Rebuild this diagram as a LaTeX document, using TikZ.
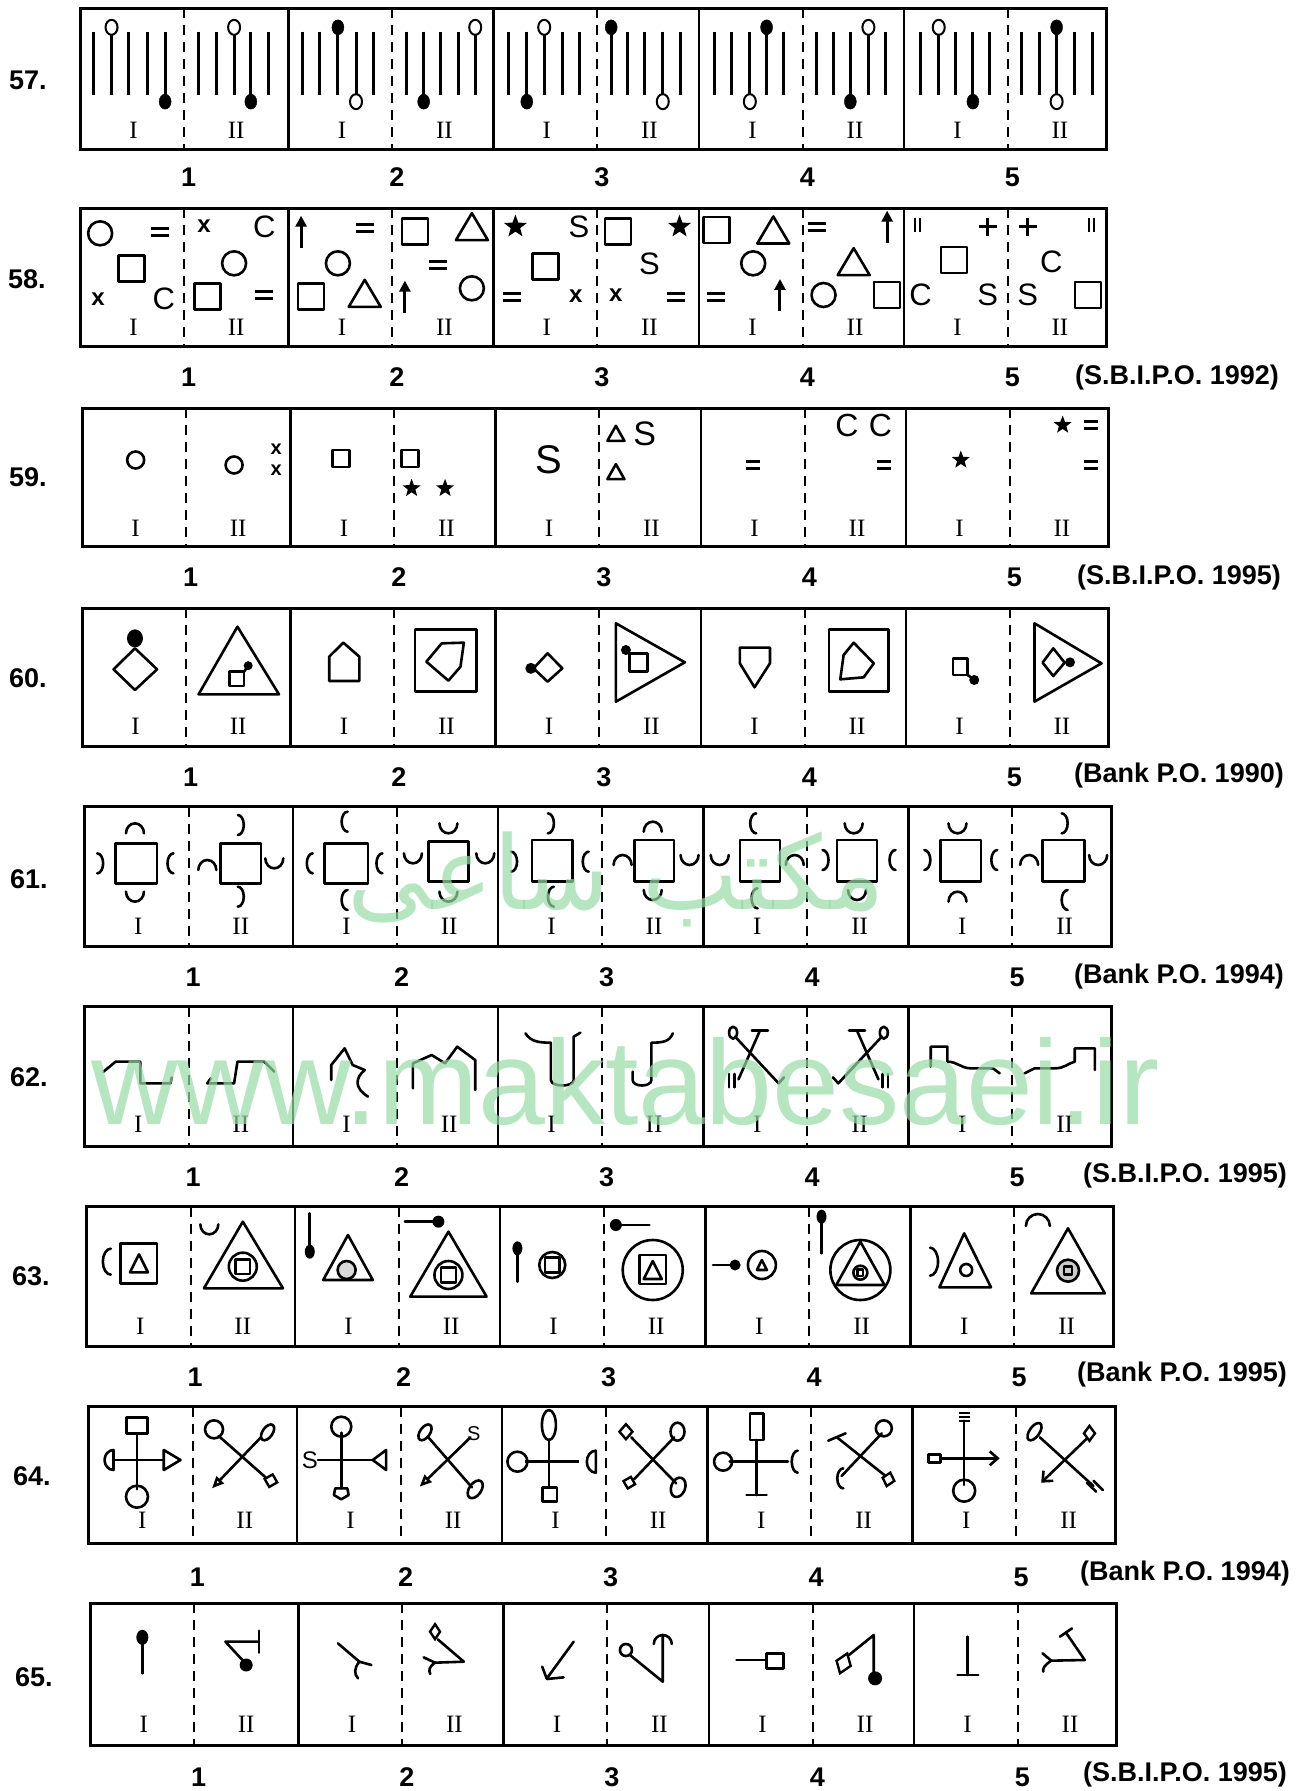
\documentclass[tikz,border=0pt]{standalone}
\usepackage{fontspec}
\setmainfont{Liberation Serif}
\newfontfamily\labsans{Liberation Sans}
\newfontfamily\arabicfont[Script=Arabic]{DejaVu Sans}
\TeXXeTstate=1
\usetikzlibrary{shapes.geometric,arrows.meta}
\definecolor{wmgreen}{RGB}{150,220,165}
\newcounter{symc}
\tikzset{
  rowbox/.style={line width=3pt},
  sepline/.style={line width=2.4pt},
  divider/.style={line width=2pt, dash pattern=on 10pt off 7pt},
  fig/.style={line width=2.6pt, line join=round, line cap=round},
  bar/.style={line width=3pt},
  odot/.style={fill=white, draw=black, line width=2pt},
  fdot/.style={fill=black, draw=black},
  romlab/.style={font=\fontsize{25}{28}\selectfont, inner sep=0pt},
  numlab/.style={font=\labsans\bfseries\fontsize{27}{30}\selectfont, inner sep=0pt},
}
\newcommand\rowframe[5]{%
  \foreach \o [count=\k] in {0,311,617,924,1230} {%
    \draw[divider] (#1+\o+155,#2) -- (#1+\o+155,#3);
    \node[romlab] (r#5p\k-a) at (#1+\o+80,#4) {I};
    \node[romlab] (r#5p\k-b) at (#1+\o+233,#4) {II};
    \node[numlab] (r#5n\k) at (#1+\o+162,531) {\k};
  }%
  \foreach \o in {311,617,924,1230} {\draw[sepline] (#1+\o,#2) -- (#1+\o,#3);}
  \draw[rowbox] (#1,#2) rectangle (#1+1533,#3);
}
\newcommand\pinT[2]{\draw[bar] (#1,82) -- (#1,285); \draw[#2] (#1,82) ellipse[x radius=6pt,y radius=7.5pt];}
\newcommand\pinB[2]{\draw[bar] (#1,95) -- (#1,305); \draw[#2] (#1,305) ellipse[x radius=6pt,y radius=7.5pt];}
\newcommand\sCirc[3]{\draw[fig] (#1,#2) circle[radius=#3pt];}
\newcommand\sRect[4]{\draw[fig] (#1,#2) ++(-#3pt,-#4pt) rectangle ++(2*#3pt,2*#4pt);}
\newcommand\sTri[4]{\draw[fig] (#1,#2) ++(0pt,0.5*#4pt) -- ++(0.5*#3pt,-#4pt) -- ++(-#3pt,0pt) -- cycle;}
\newcommand\sEq[3]{\draw[line width=3pt] (#1,#2) ++(-#3pt,3.5pt) -- ++(2*#3pt,0pt) (#1,#2) ++(-#3pt,-3.5pt) -- ++(2*#3pt,0pt);}
\newcommand\sTxt[4]{\stepcounter{symc}\node[inner sep=0pt,font=\labsans\fontsize{#4}{#4}\selectfont] (sym\the\value{symc}) at (#1,#2) {#3};}
\newcommand\sX[3]{\stepcounter{symc}\node[inner sep=0pt,font=\labsans\bfseries\fontsize{#3}{#3}\selectfont] (sym\the\value{symc}) at (#1,#2) {x};}
\newcommand\sStar[3]{\stepcounter{symc}\node[star,star points=5,star point ratio=2.4,fill,inner sep=0pt,minimum size=#3pt] (sym\the\value{symc}) at (#1,#2) {};}
\newcommand\sUp[2]{\draw[line width=3pt,-{Triangle[length=11pt,width=11pt]}] (#1,#2) ++(0pt,-16pt) -- ++(0pt,32pt);}
\newcommand\sPlus[2]{\draw[line width=2.8pt] (#1,#2) ++(-9pt,0pt) -- ++(18pt,0pt) (#1,#2) ++(0pt,-9pt) -- ++(0pt,18pt);}
\newcommand\sDbar[2]{\draw[line width=1.6pt] (#1,#2) ++(-2.5pt,-7pt) -- ++(0pt,14pt) (#1,#2) ++(2.5pt,-7pt) -- ++(0pt,14pt);}
\newcommand\aN[4]{\draw[fig] (#1,#2) ++(-#3pt,-0.5*#4pt) arc[start angle=180,end angle=0,x radius=#3pt,y radius=#4pt];}
\newcommand\aU[4]{\draw[fig] (#1,#2) ++(-#3pt,0.5*#4pt) arc[start angle=180,end angle=360,x radius=#3pt,y radius=#4pt];}
\newcommand\aL[4]{\draw[fig] (#1,#2) ++(0.5*#3pt,#4pt) arc[start angle=90,end angle=270,x radius=#3pt,y radius=#4pt];}
\newcommand\aR[4]{\draw[fig] (#1,#2) ++(-0.5*#3pt,#4pt) arc[start angle=90,end angle=-90,x radius=#3pt,y radius=#4pt];}
\newcommand\sDia[5]{\stepcounter{symc}\node[draw,line width=2.4pt,diamond,inner sep=0pt,minimum width=#3pt,minimum height=#4pt,rotate=#5,fill=white] (sym\the\value{symc}) at (#1,#2) {};}
\newcommand\sEll[5]{\draw[fig, rotate around={#5:(#1,#2)}] (#1,#2) ellipse[x radius=#3pt,y radius=#4pt];}
\begin{document}
\begin{tikzpicture}[x=1pt,y=-1pt]
\fill[white] (0,0) rectangle (1305,1791);
\useasboundingbox (0,0) rectangle (1305,1791);

% row numbers
\foreach \n/\yy/\xx in {57/80/9,58/279/8,59/477/9,60/678/9,61/879/10,62/1077/10,63/1276/12,64/1476/13,65/1677/15}
  {\node[numlab,anchor=west] (row\n) at (\xx,\yy) {\n.};}

% sources
\node[numlab,anchor=east] (src58) at (1279,378) {(S.B.I.P.O. 1992)};
\node[numlab,anchor=east] (src59) at (1281,578) {(S.B.I.P.O. 1995)};
\node[numlab,anchor=east] (src60) at (1284,776) {(Bank P.O. 1990)};
\node[numlab,anchor=east] (src61) at (1284,977) {(Bank P.O. 1994)};
\node[numlab,anchor=east] (src62) at (1287,1176) {(S.B.I.P.O. 1995)};
\node[numlab,anchor=east] (src63) at (1287,1375) {(Bank P.O. 1995)};
\node[numlab,anchor=east] (src64) at (1290,1573) {(Bank P.O. 1994)};
\node[numlab,anchor=east] (src65) at (1287,1774) {(S.B.I.P.O. 1995)};

% ---------------- row 57
\begin{scope}[shift={(70pt,0pt)},x=0.6698pt,y=-0.3333pt]
\foreach \x in {35,88,115,192,218,297,347,373,453,503,553,580,655,735,760,833,858,912,962,988,1065,1115,1140,1218,1270,1322,1373,1420,1447,1500,1527}
  {\draw[bar] (\x,95) -- (\x,285);}
\pinT{62}{odot} \pinB{142}{fdot} \pinT{245}{odot} \pinB{270}{fdot}
\pinT{400}{fdot} \pinB{427}{odot} \pinB{528}{fdot} \pinT{605}{odot}
\pinB{682}{fdot} \pinT{708}{odot} \pinT{808}{fdot} \pinB{885}{odot}
\pinB{1015}{odot} \pinT{1040}{fdot} \pinB{1165}{fdot} \pinT{1192}{odot}
\pinT{1297}{odot} \pinB{1348}{fdot} \pinT{1473}{fdot} \pinB{1473}{odot}
\rowframe{15}{25}{450}{390}{57}
\end{scope}

% ---------------- row 58
\begin{scope}[shift={(70pt,-200pt)},x=0.6698pt,y=-0.3333pt]
\sCirc{45}{100}{12} \sEq{135}{95}{9} \sX{200}{78}{24} \sTxt{290}{80}{C}{31}
\sRect{92}{205}{13}{13} \sCirc{245}{190}{12}
\sX{42}{298}{24} \sTxt{140}{298}{C}{31} \sRect{205}{290}{13}{13} \sEq{290}{285}{9}
\sUp{345}{95} \sEq{440}{85}{9} \sRect{515}{95}{13}{13} \sTri{600}{80}{32}{27}
\sCirc{400}{190}{12} \sEq{550}{195}{9}
\sRect{360}{290}{13}{13} \sTri{440}{280}{32}{27} \sUp{500}{290} \sCirc{600}{265}{12}
\sStar{665}{80}{24} \sTxt{760}{80}{S}{31} \sRect{818}{95}{13}{13} \sStar{910}{80}{24}
\sRect{710}{200}{13}{13} \sTxt{865}{190}{S}{31}
\sEq{660}{290}{9} \sX{755}{288}{24} \sX{815}{285}{24} \sEq{905}{290}{9}
\sRect{965}{90}{13}{13} \sTri{1050}{90}{32}{27} \sEq{1115}{80}{9} \sUp{1220}{80}
\sCirc{1020}{190}{12} \sTri{1170}{185}{32}{27}
\sEq{965}{290}{9} \sUp{1060}{285} \sCirc{1125}{285}{12} \sRect{1220}{285}{13}{13}
\sDbar{1265}{75} \sPlus{1370}{80} \sPlus{1430}{80} \sDbar{1525}{75}
\sRect{1320}{180}{13}{13} \sTxt{1465}{185}{C}{31}
\sTxt{1270}{285}{C}{31} \sTxt{1370}{285}{S}{31} \sTxt{1430}{285}{S}{31} \sRect{1520}{285}{13}{13}
\rowframe{15}{25}{440}{382}{58}
\end{scope}

% ---------------- row 59
\begin{scope}[shift={(70pt,-400pt)},x=0.6698pt,y=-0.3333pt]
\sCirc{98}{180}{8.5} \sCirc{245}{195}{8.5} \sX{308}{148}{20} \sX{308}{212}{20}
\sRect{405}{175}{8.5}{8.5} \sRect{508}{175}{8.5}{8.5} \sStar{510}{265}{19} \sStar{560}{265}{19}
\sTxt{715}{180}{S}{40} \sTri{815}{100}{17}{15} \sTxt{858}{100}{S}{34} \sTri{815}{215}{17}{15}
\sEq{1020}{195}{7} \sTxt{1160}{75}{C}{32} \sTxt{1210}{75}{C}{32} \sEq{1215}{195}{7}
\sStar{1330}{180}{19} \sStar{1482}{75}{19} \sEq{1525}{75}{7} \sEq{1525}{195}{7}
\rowframe{18}{25}{440}{385}{59}
\end{scope}

% ---------------- row 60
\begin{scope}[shift={(70pt,-600pt)},x=0.6698pt,y=-0.3333pt]
\fill (97,115) ellipse[x radius=8pt,y radius=9pt];
\draw[fig] (97,145) -- (130,208) -- (97,270) -- (65,208) -- cycle;
\draw[fig] (250,80) -- (312,283) -- (192,283) -- cycle;
\draw[fig] (238,215) rectangle (260,258); \draw[fig] (260,215) -- (266,197); \fill (266,197) circle[radius=4.5pt];
\draw[fig] (387,243) -- (432,243) -- (432,170) -- (408,128) -- (387,170) -- cycle;
\draw[fig] (515,88) rectangle (607,275);
\draw[fig] (555,130) -- (588,128) -- (583,200) -- (565,242) -- (532,185) -- cycle;
\fill (688,205) circle[radius=5.5pt];
\draw[fig] (713,160) -- (735,205) -- (713,245) -- (692,205) -- cycle;
\draw[fig] (815,70) -- (918,187) -- (815,305) -- cycle;
\draw[fig] (835,160) rectangle (862,215); \fill (830,150) circle[radius=5pt];
\draw[fig] (1000,143) -- (1045,143) -- (1045,190) -- (1022,262) -- (1000,190) -- cycle;
\draw[fig] (1133,88) rectangle (1222,275);
\draw[fig] (1170,128) -- (1200,190) -- (1185,232) -- (1150,238) -- (1155,165) -- cycle;
\draw[fig] (1318,175) rectangle (1340,225); \draw[fig] (1340,225) -- (1350,238); \fill (1350,240) circle[radius=5pt];
\draw[fig] (1440,70) -- (1540,190) -- (1440,305) -- cycle;
\draw[fig] (1468,145) -- (1485,188) -- (1468,228) -- (1452,188) -- cycle; \fill (1493,187) circle[radius=5pt];
\rowframe{18}{25}{440}{378}{60}
\end{scope}

% ---------------- row 61
\begin{scope}[shift={(70pt,-800pt)},x=0.6698pt,y=-0.3333pt]
\draw[fig] (68,130) rectangle (130,250); \aN{97}{85}{9}{10} \aR{45}{190}{6}{10} \aL{150}{190}{6}{10} \aU{97}{290}{9}{10}
\draw[fig] (225,130) rectangle (285,250); \aR{255}{75}{6}{10} \aN{205}{195}{9}{10} \aU{305}{190}{9}{10} \aR{255}{290}{6}{10}
\draw[fig] (380,130) rectangle (445,250); \aL{410}{65}{6}{10} \aL{358}{190}{6}{10} \aL{462}{190}{6}{10} \aL{410}{300}{6}{10}
\draw[fig] (535,125) rectangle (595,245); \aU{565}{85}{9}{10} \aU{512}{175}{9}{10} \aU{620}{175}{9}{10} \aU{565}{290}{9}{10}
\draw[fig] (690,120) rectangle (750,245); \aR{718}{70}{6}{10} \aR{663}{185}{6}{10} \aL{770}{185}{6}{10} \aL{718}{290}{6}{10}
\draw[fig] (843,120) rectangle (902,245); \aN{870}{80}{9}{10} \aN{825}{180}{9}{10} \aU{925}{180}{9}{10} \aU{870}{285}{9}{10}
\draw[fig] (1000,120) rectangle (1060,245); \aL{1020}{70}{6}{10} \aU{970}{180}{9}{10} \aN{1082}{180}{9}{10} \aL{1022}{295}{6}{10}
\draw[fig] (1145,120) rectangle (1205,245); \aU{1170}{85}{9}{10} \aR{1128}{180}{6}{10} \aL{1228}{180}{6}{10} \aU{1175}{285}{9}{10}
\draw[fig] (1300,120) rectangle (1360,245); \aU{1325}{85}{9}{10} \aR{1280}{180}{6}{10} \aL{1380}{180}{6}{10} \aN{1325}{290}{9}{10}
\draw[fig] (1452,120) rectangle (1515,245); \aR{1485}{70}{6}{10} \aN{1432}{180}{9}{10} \aU{1535}{180}{9}{10} \aL{1485}{300}{6}{10}
\rowframe{22}{20}{440}{378}{61}
\end{scope}

% ---------------- row 62
\begin{scope}[shift={(70pt,-1000pt)},x=0.6698pt,y=-0.3333pt]
\draw[fig] (50,215) -- (68,185) -- (105,185) -- (105,250) -- (150,250) -- (152,232);
\draw[fig] (210,235) -- (205,250) -- (245,250) -- (250,185) -- (290,185) -- (305,215);
\draw[fig] (390,240) -- (390,195) -- (410,145) -- (422,195) -- (440,210) .. controls (425,235) and (425,265) .. (445,290);
\draw[fig] (512,265) -- (512,190) -- (540,165) -- (560,190) -- (578,140) -- (605,180) -- (605,270);
\draw[fig] (680,100) .. controls (688,125) and (700,128) .. (718,128) -- (718,240) .. controls (718,262) and (752,262) .. (752,240) -- (752,110) -- (762,98);
\draw[fig] (900,100) .. controls (895,125) and (885,128) .. (868,128) -- (868,240) .. controls (868,262) and (840,262) .. (840,240) -- (840,215);
\draw[fig] (993,110) -- (1058,250) -- (1066,232);
\draw[fig] (990,98) ellipse[x radius=4pt,y radius=6pt];
\draw[fig] (1030,92) -- (998,238); \draw[fig] (1018,92) -- (1042,92);
\draw[fig] (984,222) -- (984,262) (992,222) -- (992,262);
\draw[fig] (1212,110) -- (1147,250) -- (1139,232);
\draw[fig] (1215,98) ellipse[x radius=4pt,y radius=6pt];
\draw[fig] (1175,92) -- (1207,238); \draw[fig] (1163,92) -- (1187,92);
\draw[fig] (1213,222) -- (1213,262) (1221,222) -- (1221,262);
\draw[fig] (1285,200) -- (1285,140) -- (1310,140) -- (1310,185) .. controls (1325,185) and (1330,205) .. (1345,205) -- (1378,205) -- (1388,220);
\draw[fig] (1425,220) -- (1440,205) -- (1470,205) .. controls (1485,205) and (1490,190) .. (1500,185) -- (1500,145) -- (1530,145) -- (1530,210);
\rowframe{22}{20}{440}{372}{62}
\end{scope}

% ---------------- row 63
\begin{scope}[shift={(70pt,-1200pt)},x=0.6698pt,y=-0.3333pt]
\aL{55}{185}{8}{13} \draw[fig] (75,130) rectangle (130,250); \sTri{103}{190}{18}{18}
\aU{208}{88}{9}{10} \draw[fig] (258,65) -- (318,265) -- (200,265) -- cycle; \sCirc{258}{200}{14} \draw[fig] (247,178) rectangle (269,222);
\draw[fig] (358,40) -- (358,145); \fill (358,155) ellipse[x radius=5pt,y radius=7pt];
\draw[fig,fill=gray!30] (413,210) circle[radius=9pt]; \draw[fig] (415,105) -- (452,240) -- (378,240) -- cycle;
\draw[fig] (500,65) -- (545,65); \fill (550,65) circle[radius=6pt];
\draw[fig] (565,95) -- (622,290) -- (508,290) -- cycle; \sCirc{565}{225}{14} \draw[fig] (554,203) rectangle (576,247);
\fill (668,145) ellipse[x radius=5pt,y radius=7pt]; \draw[fig] (668,150) -- (668,245);
\sCirc{720}{195}{13} \draw[fig] (709,173) rectangle (731,217);
\fill (815,75) circle[radius=6pt]; \draw[fig] (815,75) -- (865,75);
\sCirc{870}{210}{30} \draw[fig] (850,165) rectangle (890,252); \sTri{870}{210}{18}{18}
\draw[fig] (960,195) -- (990,195); \fill (993,195) circle[radius=5.5pt];
\sCirc{1033}{195}{14} \sTri{1033}{195}{10}{10}
\fill (1122,50) ellipse[x radius=5pt,y radius=7pt]; \draw[fig] (1122,55) -- (1122,160);
\sCirc{1180}{210}{30} \draw[fig] (1180,125) -- (1216,255) -- (1144,255) -- cycle;
\sCirc{1180}{218}{7} \draw[fig] (1176,208) rectangle (1184,228);
\aR{1290}{185}{8}{14} \draw[fig] (1335,100) -- (1375,262) -- (1298,262) -- cycle; \sCirc{1338}{210}{6}
\aN{1445}{60}{12}{12} \draw[fig] (1490,85) -- (1545,280) -- (1435,280) -- cycle;
\draw[fig,fill=gray!40] (1490,212) circle[radius=11pt]; \draw[fig] (1484,200) rectangle (1496,224);
\rowframe{25}{20}{440}{378}{63}
\end{scope}

% ---------------- row 64
\begin{scope}[shift={(70pt,-1400pt)},x=0.6698pt,y=-0.3333pt]
\draw[fig] (100,100) -- (100,268); \draw[fig] (65,180) -- (140,180);
\draw[fig] (84,52) rectangle (116,100); \sCirc{100}{290}{11}
\draw[fig] (65,180) ++(0pt,10pt) arc[start angle=90,end angle=270,x radius=9pt,y radius=10pt] -- cycle;
\draw[fig] (140,150) -- (165,180) -- (140,210) -- cycle;
\draw[fig] (222,108) -- (292,232);
\draw[fig,-{Triangle[open,length=12pt,width=10pt]}] (285,112) -- (212,265);
\sCirc{215}{88}{9} \sEll{295}{97}{5}{9}{-35} \sDia{300}{242}{14}{14}{-15}
\draw[fig] (405,98) -- (405,265); \draw[fig] (370,180) -- (452,180);
\sCirc{405}{80}{10} \sTxt{358}{180}{S}{24}
\draw[fig] (472,150) -- (452,180) -- (472,210) -- cycle;
\draw[fig] (396,265) -- (414,265) -- (416,285) -- (405,298) -- (394,285) -- cycle;
\draw[fig] (535,112) -- (600,262);
\draw[fig,-{Triangle[open,length=12pt,width=10pt]}] (598,112) -- (522,260);
\sEll{530}{97}{5}{9}{-35} \sTxt{603}{100}{S}{20} \sEll{605}{268}{6}{10}{-35}
\draw[fig] (715,120) -- (715,262); \draw[line width=3.4pt] (680,185) -- (760,185);
\sEll{715}{75}{7}{15}{0} \sCirc{668}{185}{10}
\draw[fig] (785,185) ++(0pt,11pt) arc[start angle=90,end angle=270,x radius=9pt,y radius=11pt] -- cycle;
\draw[fig] (705,262) rectangle (727,305);
\draw[fig] (838,112) -- (905,250); \draw[fig] (902,112) -- (842,238);
\sDia{830}{95}{14}{16}{0} \sEll{907}{95}{7}{9}{0} \sDia{835}{248}{13}{13}{-15} \sEll{908}{262}{7}{10}{-20}
\draw[fig] (1025,120) -- (1025,285); \draw[fig] (985,185) -- (1072,185);
\draw[fig] (1015,40) rectangle (1035,120); \sCirc{975}{185}{9} \aL{1082}{185}{6}{11}
\draw[fig] (1010,285) -- (1040,285);
\draw[fig] (1145,112) -- (1222,235); \draw[fig] (1212,100) -- (1152,228);
\draw[fig] (1132,122) -- (1158,100); \sCirc{1215}{85}{8} \aL{1150}{235}{6}{10} \sDia{1222}{238}{13}{15}{-15}
\draw[fig] (1335,62) -- (1335,255);
\draw[fig,-{Straight Barb[length=8pt,width=14pt]}] (1300,175) -- (1388,175);
\draw[line width=2pt] (1327,38) -- (1343,38) (1327,50) -- (1343,50) (1327,62) -- (1343,62);
\draw[fig] (1282,163) rectangle (1300,188); \sCirc{1335}{272}{11}
\draw[fig] (1448,112) -- (1528,258);
\draw[fig,-{Straight Barb[length=8pt,width=14pt]}] (1520,112) -- (1450,248);
\sEll{1440}{95}{5}{10}{-35} \sDia{1522}{100}{12}{16}{0}
\draw[fig] (1518,248) -- (1532,275) (1528,242) -- (1542,270);
\rowframe{28}{20}{430}{362}{64}
\end{scope}

% ---------------- row 65
\begin{scope}[shift={(70pt,-1600pt)},x=0.6698pt,y=-0.3333pt]
\draw[fig] (108,120) -- (108,220); \fill (108,112) ellipse[x radius=6pt,y radius=7.5pt];
\draw[fig] (282,92) -- (282,158); \draw[fig] (282,125) -- (232,125) -- (262,190); \fill (263,195) circle[radius=6.5pt];
\draw[fig] (400,130) -- (432,185); \draw[fig] (432,185) -- (450,195);
\draw[fig] (432,185) .. controls (424,205) and (424,222) .. (430,235);
\sDia{545}{95}{11}{16}{0}
\draw[fig] (549,118) -- (588,185) -- (545,188); \draw[fig] (545,188) -- (528,172);
\draw[fig] (545,188) .. controls (536,200) and (535,212) .. (538,222);
\draw[fig] (752,125) -- (712,235); \draw[fig] (705,200) -- (712,237) -- (737,232);
\sCirc{830}{150}{6} \draw[fig] (836,165) -- (885,245) -- (885,105);
\draw[fig] (885,105) ++(-9pt,-9pt) arc[start angle=180,end angle=0,radius=9pt];
\draw[fig] (995,180) -- (1040,180); \draw[fig] (1040,160) rectangle (1065,205);
\sDia{1155}{190}{16}{22}{-20}
\draw[fig] (1163,165) -- (1200,105) -- (1200,230); \fill (1202,235) circle[radius=7pt];
\draw[fig] (1340,110) -- (1340,225); \draw[fig] (1325,225) -- (1356,225);
\draw[fig] (1478,110) -- (1496,85); \draw[fig] (1487,98) -- (1515,180) -- (1465,182);
\draw[fig] (1465,182) -- (1452,160); \draw[fig] (1465,182) .. controls (1455,195) and (1452,205) .. (1453,215);
\rowframe{30}{10}{435}{372}{65}
\end{scope}

% watermark
\node[text=wmgreen,text opacity=0.7,inner sep=0pt] (wm2) at (616,879) {\resizebox{537pt}{!}{\arabicfont\beginR مکتب ساعی\endR}};
\node[anchor=base west,text=wmgreen,text opacity=0.7,inner sep=0pt] (wm1) at (91,1124) {\resizebox{1068pt}{!}{\labsans www.maktabesaei.ir}};
\end{tikzpicture}
\end{document}
